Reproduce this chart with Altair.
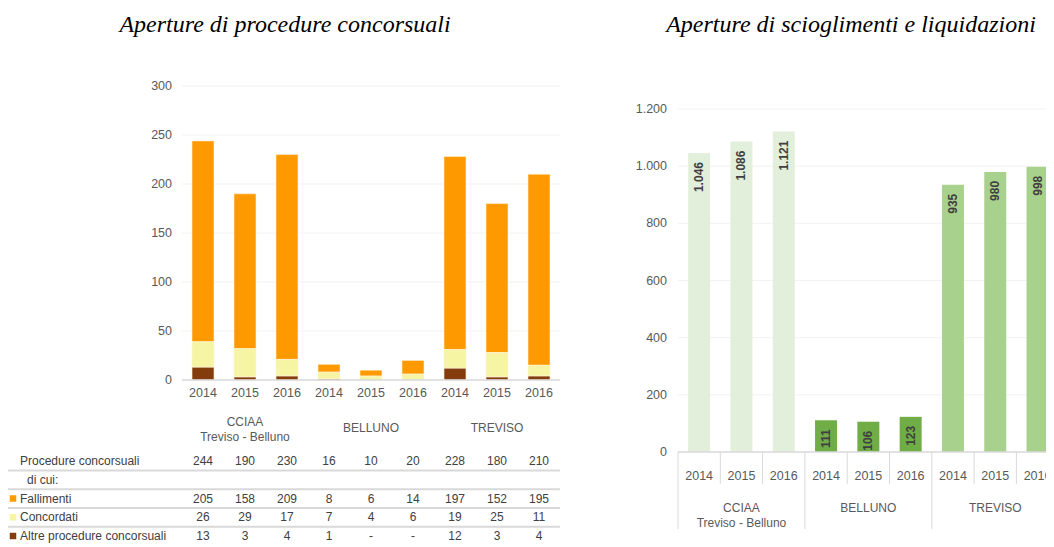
import altair as alt
import pandas as pd

years = ["2014", "2015", "2016"]
area_keys = ["CCIAA", "BELLUNO", "TREVISO"]
area_labels = ["CCIAA\nTreviso - Belluno", "BELLUNO", "TREVISO"]
fallimenti = [205, 158, 209, 8, 6, 14, 197, 152, 195]
concordati = [26, 29, 17, 7, 4, 6, 19, 25, 11]
altre = [13, 3, 4, 1, 0, 0, 12, 3, 4]
totali = [244, 190, 230, 16, 10, 20, 228, 180, 210]
scioglimenti = [1046, 1086, 1121, 111, 106, 123, 935, 980, 998]
left_ticks = [0, 50, 100, 150, 200, 250, 300]
right_ticks = [0, 200, 400, 600, 800, 1000, 1200]
right_tick_labels = ["0", "200", "400", "600", "800", "1.000", "1.200"]
row_labels = ["Procedure concorsuali", "di cui:", "Fallimenti", "Concordati",
              "Altre procedure concorsuali"]
series = ["Fallimenti", "Concordati", "Altre procedure concorsuali"]
series_colors = ["#FF9900", "#F5F5A3", "#843C0C"]
area_colors = ["#E2EFDA", "#70AD47", "#A9D18E"]
title_left = "Aperture di procedure concorsuali"
title_right = "Aperture di scioglimenti e liquidazioni"

FONT = "Liberation Sans"
SERIF = "Liberation Serif"
LBL = "#595959"
W, H = 1038, 535

slots = [f"{a}|{y}" for a in area_keys for y in years]
slot_area = [a for a in area_keys for y in years]
slot_year = [y for a in area_keys for y in years]

# ---- data tables
rows = []
for i, s in enumerate(slots):
    for k, (name, vals) in enumerate(zip(series, [fallimenti, concordati, altre])):
        rows.append({"slot": s, "serie": name, "value": vals[i], "ord": 2 - k})
bars_left = pd.DataFrame(rows)

bars_right = pd.DataFrame({
    "slot": slots, "area": slot_area, "value": scioglimenti,
    "label": [f"{v:,}".replace(",", ".") for v in scioglimenti],
})
year_df = pd.DataFrame({"slot": slots, "year": slot_year})
group_df = pd.DataFrame({"slot": [slots[i * 3 + 1] for i in range(3)], "label": area_labels})
group_df["multi"] = group_df["label"].str.contains("\n")

trows = []
for i, s in enumerate(slots):
    trows.append({"slot": s, "row": 0, "text": str(totali[i])})
    for r, vals in zip([2, 3, 4], [fallimenti, concordati, altre]):
        trows.append({"slot": s, "row": r, "text": str(vals[i]) if vals[i] else "-"})
table_df = pd.DataFrame(trows)
label_df = pd.DataFrame({"row": [0, 2, 3, 4], "label": [row_labels[i] for i in [0, 2, 3, 4]]})
dicui_df = pd.DataFrame({"row": [1], "label": [row_labels[1]]})
square_df = pd.DataFrame({"row": [2, 3, 4], "serie": series})
sep_df = pd.DataFrame({"row": [0.5, 1.5, 2.5, 3.5]})
bounds_df = pd.DataFrame({"b": list(range(len(slots) + 1))})
bounds_df["group"] = bounds_df["b"] % 3 == 0

# ---- scales
R_STEP = 42.3
L_RANGE = [174, 552]
R_RANGE = [670, 670 + R_STEP * len(slots)]


def xband(r, step, bw):
    p = (step - bw) / step
    return alt.Scale(type="band", domain=slots, range=r, paddingInner=p, paddingOuter=p / 2)


def xpoint(r):
    return alt.Scale(type="point", domain=slots, range=r, padding=0.5)


yL = alt.Scale(domain=[0, 300], range=[372, 78], nice=False, zero=False)
yR = alt.Scale(domain=[0, 1200], range=[444, 101], nice=False, zero=False)
yT = alt.Scale(domain=[0, 4], range=[453, 528], nice=False, zero=False)
xR_lin = alt.Scale(domain=[0, len(slots)], range=R_RANGE, nice=False, zero=False)

layers = []

# titles
for t, xc in [(title_left, 277), (title_right, 843)]:
    layers.append(
        alt.Chart(pd.DataFrame({"t": [t]})).mark_text(
            font=SERIF, fontSize=24, fontStyle="italic", color="#000000",
            align="center", baseline="middle"
        ).encode(text="t:N", x=alt.value(xc), y=alt.value(17))
    )

# ---------------- LEFT CHART
layers.append(
    alt.Chart(pd.DataFrame({"v": left_ticks[1:]})).mark_rule(color="#F2F2F2", strokeWidth=1)
    .encode(y=alt.Y("v:Q", scale=yL, axis=None), x=alt.value(L_RANGE[0]), x2=alt.value(L_RANGE[1]))
)
layers.append(
    alt.Chart(pd.DataFrame({"v": left_ticks})).mark_text(
        font=FONT, fontSize=12.5, color=LBL, align="right", baseline="middle"
    ).encode(y=alt.Y("v:Q", scale=yL, axis=None), text="v:N", x=alt.value(164))
)
layers.append(
    alt.Chart(bars_left).mark_bar(stroke="#FFF4DC", strokeWidth=0.6).encode(
        x=alt.X("slot:N", scale=xband(L_RANGE, 42, 22), axis=None),
        y=alt.Y("value:Q", scale=yL, axis=None, stack="zero"),
        color=alt.Color("serie:N", scale=alt.Scale(domain=series, range=series_colors), legend=None),
        order=alt.Order("ord:Q"),
    )
)
layers.append(
    alt.Chart(pd.DataFrame({"v": [0]})).mark_rule(color="#D9D9D9", strokeWidth=1.5)
    .encode(y=alt.Y("v:Q", scale=yL, axis=None), x=alt.value(L_RANGE[0]), x2=alt.value(L_RANGE[1]))
)
layers.append(
    alt.Chart(year_df).mark_text(font=FONT, fontSize=12.5, color=LBL, baseline="middle")
    .encode(x=alt.X("slot:N", scale=xpoint(L_RANGE), axis=None), text="year:N", y=alt.value(385))
)
layers.append(
    alt.Chart(group_df[group_df["multi"]]).mark_text(font=FONT, fontSize=12, color=LBL, baseline="top",
                                                     lineBreak="\n", lineHeight=15)
    .encode(x=alt.X("slot:N", scale=xpoint(L_RANGE), axis=None), text="label:N", y=alt.value(409))
)
layers.append(
    alt.Chart(group_df[~group_df["multi"]]).mark_text(font=FONT, fontSize=12, color=LBL, baseline="middle")
    .encode(x=alt.X("slot:N", scale=xpoint(L_RANGE), axis=None), text="label:N", y=alt.value(420))
)

# table
layers.append(
    alt.Chart(sep_df).mark_rule(color="#D9D9D9", strokeWidth=2)
    .encode(y=alt.Y("row:Q", scale=yT, axis=None), x=alt.value(0), x2=alt.value(L_RANGE[1]))
)
layers.append(
    alt.Chart(label_df).mark_text(font=FONT, fontSize=12, color="#404040", align="left", baseline="middle")
    .encode(y=alt.Y("row:Q", scale=yT, axis=None), text="label:N", x=alt.value(12))
)
layers.append(
    alt.Chart(dicui_df).mark_text(font=FONT, fontSize=12, color="#404040", align="left", baseline="middle")
    .encode(y=alt.Y("row:Q", scale=yT, axis=None), text="label:N", x=alt.value(19))
)
layers.append(
    alt.Chart(square_df).mark_square(size=42, opacity=1)
    .encode(y=alt.Y("row:Q", scale=yT, axis=None), x=alt.value(5),
            color=alt.Color("serie:N", scale=alt.Scale(domain=series, range=series_colors), legend=None))
)
layers.append(
    alt.Chart(table_df).mark_text(font=FONT, fontSize=12, color="#404040", baseline="middle")
    .encode(x=alt.X("slot:N", scale=xpoint(L_RANGE), axis=None),
            y=alt.Y("row:Q", scale=yT, axis=None), text="text:N")
)

# ---------------- RIGHT CHART
layers.append(
    alt.Chart(pd.DataFrame({"v": right_ticks[1:]})).mark_rule(color="#F2F2F2", strokeWidth=1)
    .encode(y=alt.Y("v:Q", scale=yR, axis=None), x=alt.value(R_RANGE[0]), x2=alt.value(W))
)
layers.append(
    alt.Chart(pd.DataFrame({"v": right_ticks, "l": right_tick_labels})).mark_text(
        font=FONT, fontSize=12.5, color=LBL, align="right", baseline="middle"
    ).encode(y=alt.Y("v:Q", scale=yR, axis=None), text="l:N", x=alt.value(659))
)
layers.append(
    alt.Chart(bars_right).mark_bar().encode(
        x=alt.X("slot:N", scale=xband(R_RANGE, R_STEP, 22), axis=None),
        y=alt.Y("value:Q", scale=yR, axis=None),
        color=alt.Color("area:N", scale=alt.Scale(domain=area_keys, range=area_colors), legend=None),
    )
)
layers.append(
    alt.Chart(bars_right).mark_text(
        font=FONT, fontSize=12, fontWeight="bold", color="#404040",
        angle=270, align="right", baseline="middle", dx=-9
    ).encode(
        x=alt.X("slot:N", scale=xpoint(R_RANGE), axis=None),
        y=alt.Y("value:Q", scale=yR, axis=None), text="label:N",
    )
)
layers.append(
    alt.Chart(pd.DataFrame({"v": [0]})).mark_rule(color="#D9D9D9", strokeWidth=1.5)
    .encode(y=alt.Y("v:Q", scale=yR, axis=None), x=alt.value(R_RANGE[0]), x2=alt.value(W))
)
layers.append(
    alt.Chart(bounds_df[~bounds_df["group"]]).mark_rule(color="#D9D9D9", strokeWidth=1)
    .encode(x=alt.X("b:Q", scale=xR_lin, axis=None), y=alt.value(444), y2=alt.value(476))
)
layers.append(
    alt.Chart(bounds_df[bounds_df["group"]]).mark_rule(color="#D9D9D9", strokeWidth=1)
    .encode(x=alt.X("b:Q", scale=xR_lin, axis=None), y=alt.value(444), y2=alt.value(521))
)
layers.append(
    alt.Chart(year_df).mark_text(font=FONT, fontSize=12.5, color=LBL, baseline="middle")
    .encode(x=alt.X("slot:N", scale=xpoint(R_RANGE), axis=None), text="year:N", y=alt.value(468))
)
layers.append(
    alt.Chart(group_df).mark_text(font=FONT, fontSize=12, color=LBL, baseline="top",
                                  lineBreak="\n", lineHeight=15)
    .encode(x=alt.X("slot:N", scale=xpoint(R_RANGE), axis=None), text="label:N", y=alt.value(495))
)

chart = alt.layer(*layers).resolve_scale(
    x="independent", y="independent", color="independent"
).properties(
    width=W, height=H, autosize=alt.AutoSizeParams(type="none"), padding=0,
    background="#FFFFFF",
).configure_view(stroke=None)

chart.save("out.html", embed_options={"renderer": "svg", "actions": False})
